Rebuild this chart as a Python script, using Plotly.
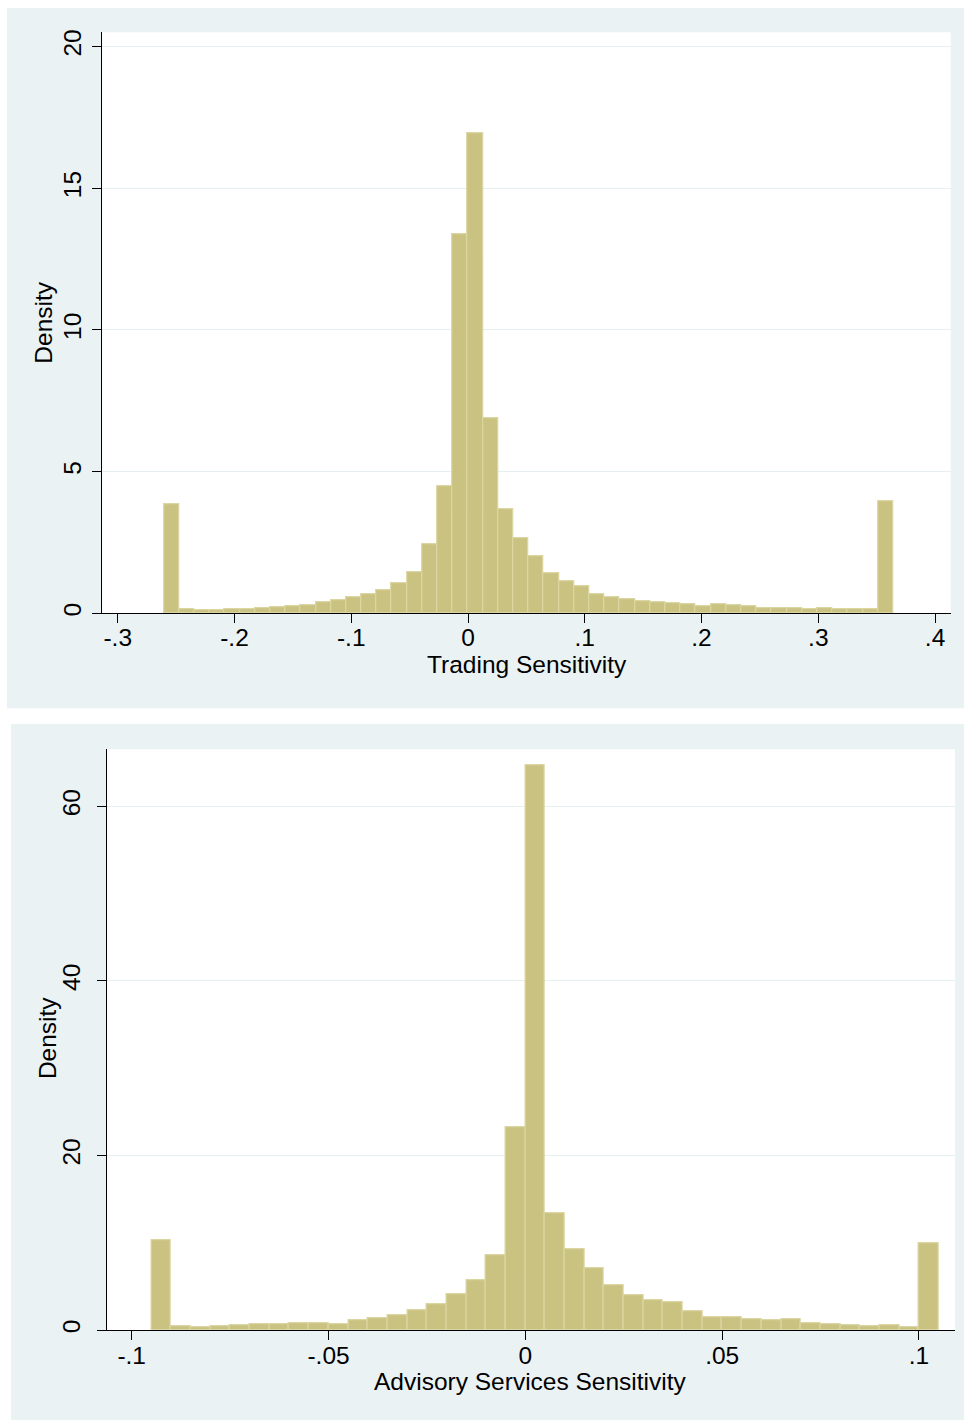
import plotly.graph_objects as go

# ---------------- data ----------------
# Top panel: Trading Sensitivity histogram (48 bins)
trading_bin_start = -0.2605
trading_bin_width = 0.013015
trading_density = [
    3.86, 0.14, 0.09, 0.09, 0.14, 0.16, 0.18, 0.21, 0.26, 0.29,
    0.39, 0.46, 0.55, 0.67, 0.83, 1.06, 1.45, 2.43, 4.47, 13.37,
    16.93, 6.90, 3.69, 2.64, 2.01, 1.43, 1.12, 0.94, 0.67, 0.56,
    0.48, 0.42, 0.39, 0.36, 0.32, 0.26, 0.32, 0.27, 0.25, 0.18,
    0.18, 0.18, 0.15, 0.19, 0.14, 0.14, 0.13, 3.94,
]
trading_xticks = [-0.3, -0.2, -0.1, 0, 0.1, 0.2, 0.3, 0.4]
trading_xlabels = ["-.3", "-.2", "-.1", "0", ".1", ".2", ".3", ".4"]
trading_yticks = [0, 5, 10, 15, 20]
trading_ylabels = ["0", "5", "10", "15", "20"]

# Bottom panel: Advisory Services Sensitivity histogram (40 bins)
advisory_bin_start = -0.095
advisory_bin_width = 0.005
advisory_density = [
    10.32, 0.42, 0.30, 0.42, 0.53, 0.65, 0.65, 0.80, 0.80, 0.72,
    1.10, 1.33, 1.71, 2.24, 3.04, 4.17, 5.77, 8.61, 23.23, 64.7,
    13.45, 9.30, 7.06, 5.20, 4.06, 3.49, 3.26, 2.13, 1.44, 1.44,
    1.21, 1.10, 1.25, 0.80, 0.68, 0.57, 0.42, 0.57, 0.34, 10.02,
]
advisory_xticks = [-0.1, -0.05, 0, 0.05, 0.1]
advisory_xlabels = ["-.1", "-.05", "0", ".05", ".1"]
advisory_yticks = [0, 20, 40, 60]
advisory_ylabels = ["0", "20", "40", "60"]

# ---------------- styling ----------------
W, H = 964, 1423
PANEL = "#EAF2F3"
GRID = "#E6EFF1"
FILL = "#CAC280"
EDGE = "#DBD5A2"
FONT = "Liberation Sans, Arial, Helvetica, sans-serif"
FS = 24.5


def centers(start, width, n):
    return [start + width * (i + 0.5) for i in range(n)]


def px_x(p):
    return p / W


def px_y(p):
    return 1 - p / H


fig = go.Figure()

fig.add_trace(go.Bar(
    x=centers(trading_bin_start, trading_bin_width, len(trading_density)),
    y=trading_density,
    width=trading_bin_width,
    marker=dict(color=FILL, line=dict(color=EDGE, width=1.2)),
    xaxis="x", yaxis="y", showlegend=False,
))
fig.add_trace(go.Bar(
    x=centers(advisory_bin_start, advisory_bin_width, len(advisory_density)),
    y=advisory_density,
    width=advisory_bin_width,
    marker=dict(color=FILL, line=dict(color=EDGE, width=1.2)),
    xaxis="x2", yaxis="y2", showlegend=False,
))

axis_common = dict(
    showline=True, linecolor="black", linewidth=1.3,
    ticks="outside", ticklen=9, tickwidth=1.3, tickcolor="black",
    tickfont=dict(family=FONT, size=FS, color="black"),
    zeroline=False,
)


def title_ann(text, x, y, angle=0):
    return dict(text=text, xref="paper", yref="paper", x=px_x(x), y=px_y(y),
                xanchor="center", yanchor="middle", showarrow=False,
                textangle=angle, font=dict(family=FONT, size=FS, color="black"))


fig.update_layout(
    width=W, height=H,
    margin=dict(l=0, r=0, t=0, b=0),
    paper_bgcolor="white",
    plot_bgcolor="white",
    bargap=0,
    font=dict(family=FONT, size=FS, color="black"),
    xaxis=dict(
        domain=[px_x(102.3), px_x(950.7)],
        range=[-0.3132, 0.4134],
        tickvals=trading_xticks, ticktext=trading_xlabels,
        showgrid=False, anchor="y", ticklabelstandoff=-7,
        **axis_common,
    ),
    yaxis=dict(
        domain=[px_y(612.8), px_y(29.3)],
        range=[0, 20.51],
        tickvals=trading_yticks, ticktext=trading_ylabels,
        tickangle=-90, ticklabelstandoff=1,
        showgrid=True, gridcolor=GRID, gridwidth=1.3, anchor="x",
        **axis_common,
    ),
    xaxis2=dict(
        domain=[px_x(106.7), px_x(955)],
        range=[-0.10635, 0.10915],
        tickvals=advisory_xticks, ticktext=advisory_xlabels,
        showgrid=False, anchor="y2", ticklabelstandoff=-6,
        **axis_common,
    ),
    yaxis2=dict(
        domain=[px_y(1332.8), px_y(749.3)],
        range=[0, 66.55],
        tickvals=advisory_yticks, ticktext=advisory_ylabels,
        tickangle=-90, ticklabelstandoff=7,
        showgrid=True, gridcolor=GRID, gridwidth=1.3, anchor="x2",
        **axis_common,
    ),
    annotations=[
        title_ann("Trading Sensitivity", 526.5, 664),
        title_ann("Density", 44, 321, -90),
        title_ann("Advisory Services Sensitivity", 530.8, 1384),
        title_ann("Density", 47.5, 1040, -90),
    ],
    shapes=[
        # panel backgrounds (graph regions)
        dict(type="rect", xref="paper", yref="paper", layer="below",
             x0=px_x(7), x1=px_x(964), y0=px_y(708.3), y1=px_y(5),
             fillcolor=PANEL, line=dict(width=0)),
        dict(type="rect", xref="paper", yref="paper", layer="below",
             x0=px_x(11), x1=px_x(964), y0=px_y(1423), y1=px_y(724),
             fillcolor=PANEL, line=dict(width=0)),
        # white plot regions
        dict(type="rect", xref="x domain", yref="y domain", layer="below",
             x0=0, x1=1, y0=0, y1=1, fillcolor="white", line=dict(width=0)),
        dict(type="rect", xref="x2 domain", yref="y2 domain", layer="below",
             x0=0, x1=1, y0=0, y1=1, fillcolor="white", line=dict(width=0)),
    ],
)

fig.write_html("out.html", config={"displayModeBar": False},
               post_script="document.body.style.margin='0';")
